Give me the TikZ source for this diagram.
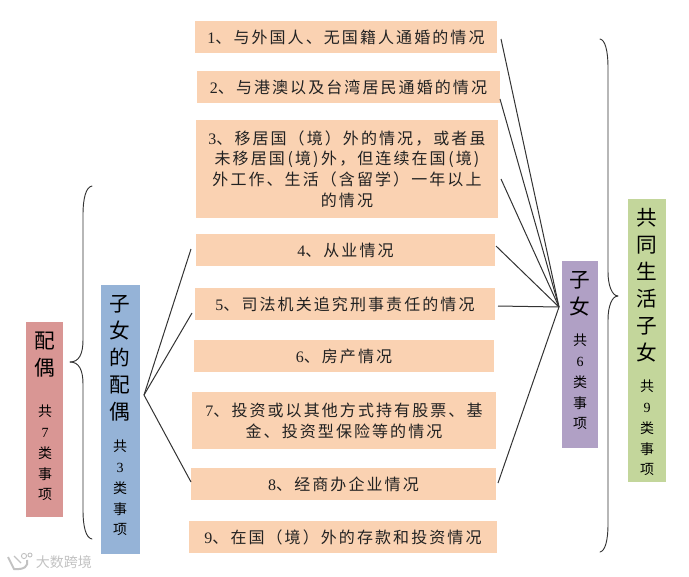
\documentclass[tikz,border=0pt]{standalone}
\usepackage{fontspec}
\setmainfont[LetterSpace=13]{Noto Sans CJK SC}
\newfontfamily\plaincjk{Noto Sans CJK SC}
\newfontfamily\latinnum{Liberation Serif}
\newcommand{\nm}[1]{{\latinnum #1}}
\newcommand{\gp}{\hspace{2pt}}
\definecolor{peach}{HTML}{FAD2B2}
\definecolor{pinkbox}{HTML}{D99694}
\definecolor{bluebox}{HTML}{95B3D7}
\definecolor{purplebox}{HTML}{B0A0C5}
\definecolor{greenbox}{HTML}{C3D69B}
\definecolor{inktext}{HTML}{222222}
\newcommand{\pxbox}[7]{% style, name, x1, y1, x2, y2, text
  \pgfmathsetmacro{\bw}{(#5-#3)*0.75}
  \pgfmathsetmacro{\bh}{(#6-#4)*0.75}
  \node[#1,minimum width=\bw pt,minimum height=\bh pt] (#2) at ({(#3+#5)/2},{(#4+#6)/2}) {#7};
}
\tikzset{
  px/.style={x=0.75pt,y=-0.75pt},
  itembox/.style={fill=peach,inner sep=0pt,align=center,text=inktext,
    font=\fontsize{12}{15.6}\selectfont},
  sidebox/.style={inner sep=0pt},
  bigtext/.style={inner sep=0pt,align=center,text=black,
    font=\plaincjk\fontsize{15.5}{20.2}\selectfont},
  smalltext/.style={inner sep=0pt,align=center,text=black,
    font=\plaincjk\fontsize{10.5}{15.6}\selectfont},
  link/.style={draw=black!80,line width=0.75pt},
  bracket/.style={draw=black!80,line width=0.7pt,line cap=round},
  marktext/.style={inner sep=0pt,text=black!24,font=\plaincjk\fontsize{10.5}{12}\selectfont},
  marklogo/.style={draw=black!24,line width=1pt}
}
\begin{document}
\begin{tikzpicture}[px]
\useasboundingbox (0,0) rectangle (689,576);
% item boxes
\pxbox{itembox}{b1}{195}{21}{497}{53}{\nm{1}、与外国人、无国籍人通婚的情况}
\pxbox{itembox}{b2}{197}{71}{500}{103}{\nm{2}、与港澳以及台湾居民通婚的情况}
\pxbox{itembox}{b3}{196}{120}{498}{218}{\nm{3}、移居国（境）外的情况，或者虽\\未移居国\gp(境)\gp 外，但连续在国\gp(境)\\外工作、生活（含留学）一年以上\\的情况}
\pxbox{itembox}{b4}{196}{234}{495}{266}{\nm{4}、从业情况}
\pxbox{itembox}{b5}{195}{288}{495}{320}{\nm{5}、司法机关追究刑事责任的情况}
\pxbox{itembox}{b6}{194}{340}{494}{372}{\nm{6}、房产情况}
\pxbox{itembox}{b7}{192}{392}{496}{449}{\nm{7}、投资或以其他方式持有股票、基\\金、投资型保险等的情况}
\pxbox{itembox}{b8}{191}{468}{496}{500}{\nm{8}、经商办企业情况}
\pxbox{itembox}{b9}{189}{521}{497}{553}{\nm{9}、在国（境）外的存款和投资情况}
% side boxes
\pxbox{sidebox,fill=pinkbox}{pink}{26}{322}{63}{517}{}
\pxbox{sidebox,fill=bluebox}{blue}{101}{285}{140}{554}{}
\pxbox{sidebox,fill=purplebox}{purple}{562}{261}{598}{448}{}
\pxbox{sidebox,fill=greenbox}{green}{628}{199}{666}{482}{}
% side labels
\node[bigtext] (pinkT) at (45,355) {配\\偶};
\node[smalltext] (pinkS) at (45,453) {共\\\nm{7}\\类\\事\\项};
\node[bigtext] (blueT) at (120,358) {子\\女\\的\\配\\偶};
\node[smalltext] (blueS) at (120,488) {共\\\nm{3}\\类\\事\\项};
\node[bigtext] (purpleT) at (580,294) {子\\女};
\node[smalltext] (purpleS) at (580,382) {共\\\nm{6}\\类\\事\\项};
\node[bigtext] (greenT) at (647,285) {共\\同\\生\\活\\子\\女};
\node[smalltext] (greenS) at (647,428) {共\\\nm{9}\\类\\事\\项};
% hubs and free ends of the connectors
\coordinate (hubR) at (559,307);
\coordinate (hubL) at (144,395);
\coordinate (r1) at (501,39);
\coordinate (r2) at (500,99);
\coordinate (r3) at (501,179);
\coordinate (r4) at (496,246);
\coordinate (r5) at (498,306);
\coordinate (r8) at (498,483);
\coordinate (l4) at (191,249);
\coordinate (l5) at (192,313);
\coordinate (l8) at (191,482);
\foreach \e in {r1,r2,r3,r4,r5,r8} \draw[link] (hubR) -- (\e);
\foreach \e in {l4,l5,l8} \draw[link] (hubL) -- (\e);
% braces
\coordinate (lbT) at (92,186);
\coordinate (lbM) at (70,362);
\coordinate (lbB) at (92,539);
\coordinate (rbT) at (600,39);
\coordinate (rbM) at (618,296);
\coordinate (rbB) at (600,552);
\draw[bracket] (lbT) .. controls (86,187) and (83,198) .. (83,215) -- (83,340)
  .. controls (83,354) and (79,362) .. (lbM);
\draw[bracket] (lbM) .. controls (79,362) and (83,370) .. (83,384) -- (83,510)
  .. controls (83,527) and (86,538) .. (lbB);
\draw[bracket] (rbT) .. controls (605,40) and (608,50) .. (608,68) -- (608,272)
  .. controls (608,285) and (612,296) .. (rbM);
\draw[bracket] (rbM) .. controls (612,296) and (608,306) .. (608,320) -- (608,524)
  .. controls (608,541) and (605,551) .. (rbB);
% watermark
\node[marktext] (wm) at (64,562) {大数跨境};
\coordinate (wa) at (8,557);
\coordinate (wb) at (14,569);
\coordinate (wc) at (27,560);
\draw[marklogo,line width=1.5pt] (wa) -- (wb) .. controls (24,570) and (29,566) .. (wc);
\draw[marklogo,line width=0.7pt] (24,556) circle (2.6) (30,555) circle (2);
\draw[marklogo] (14,556) -- (21,563);
\end{tikzpicture}
\end{document}
